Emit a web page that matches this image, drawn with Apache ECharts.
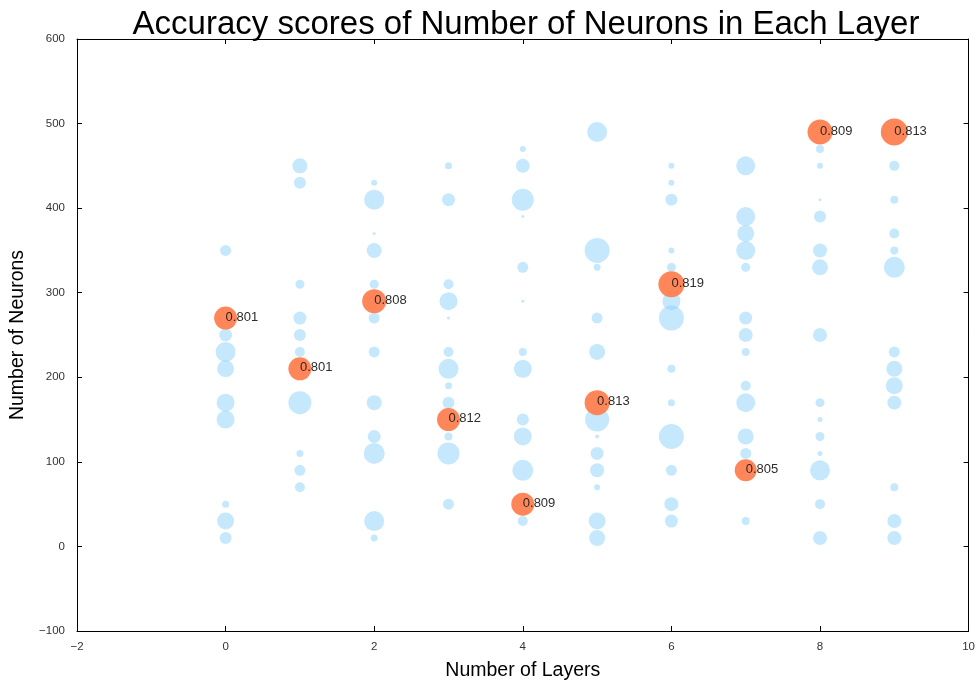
<!DOCTYPE html>
<html><head><meta charset="utf-8">
<script src="https://cdn.jsdelivr.net/npm/echarts@6/dist/echarts.min.js"></script>
<style>html,body{margin:0;padding:0;background:#fff;overflow:hidden}#c{width:978px;height:686px}</style>
</head><body><div id="c"></div>
<script>
// Light-blue bubbles per layer count (index = number of layers)
const layerCounts = [0,1,2,3,4,5,6,7,8,9];
const neuronsByLayer = [
 [350,250,230,210,170,150,50,30,10],
 [450,430,310,270,250,230,170,110,90,70],
 [430,410,370,350,310,270,230,170,130,110,30,10],
 [450,410,310,290,270,230,210,190,170,130,110,50],
 [470,450,410,390,330,290,230,210,150,130,90,30],
 [490,350,330,270,230,150,130,110,90,70,30,10],
 [450,430,410,350,330,290,270,210,170,130,90,50,30],
 [450,390,370,350,330,270,250,230,190,170,130,110,30],
 [470,450,410,390,350,330,250,170,150,130,110,90,50,10],
 [450,410,370,350,330,230,210,190,170,70,30,10]
];
const magnitudeByLayer = [
 [11,13,20,17,18,18,7,17,12],
 [15,12,9,13,12,10,23,7,11,10],
 [6,20,3,15,9,11,11,15,13,21,20,7],
 [7,13,10,18,3,10,20,7,12,8,22,11],
 [6,14,22,3,11,3,8,18,12,18,21,10],
 [20,25,7,11,16,24,4,13,14,6,17,16],
 [6,6,12,6,9,18,25,8,7,25,11,14,13],
 [19,19,17,19,9,13,14,8,10,19,16,11,8],
 [8,6,3,12,14,16,14,9,5,9,5,20,10,14],
 [10,8,10,8,21,11,16,17,14,8,14,14]
];
// Best configuration per layer count (orange)
const bestLayers = [0,1,2,3,4,5,6,7,8,9];
const bestNeurons = [270,210,290,150,50,170,310,90,490,490];
const bestMagnitude = [23,23,24,23,23,25,26,22,25,27];
const bestAccuracy = ['0.801','0.801','0.808','0.812','0.809','0.813','0.819','0.805','0.809','0.813'];
const xTicks = [-2,0,2,4,6,8,10];
const yTicks = [-100,0,100,200,300,400,500,600];

const blueData = [];
layerCounts.forEach((L,i)=>{
  neuronsByLayer[i].forEach((n,j)=>blueData.push([L, n, magnitudeByLayer[i][j]]));
});
const bestData = bestLayers.map((x,i)=>[x, bestNeurons[i], bestMagnitude[i], bestAccuracy[i]]);

const FONT = '"Liberation Sans", Arial, Helvetica, sans-serif';
const minus = v => String(v).replace('-', '\u2212');
const tickStyle = {show:true, inside:true, length:5, lineStyle:{color:'#000', width:1}};
const lineStyle = {show:true, onZero:false, lineStyle:{color:'#000', width:1}};
const labelStyle = {color:'#333', fontSize:11.5, fontFamily:FONT, formatter: minus};

const chart = echarts.init(document.getElementById('c'), null, {renderer:'canvas'});
chart.setOption({
  animation:false,
  backgroundColor:'#fff',
  title:{text:'Accuracy scores of Number of Neurons in Each Layer', left:521, top:3, textAlign:'center',
    textStyle:{fontFamily:FONT, fontSize:33, fontWeight:'normal', color:'#000'}},
  grid:{left:76, right:8, top:39, bottom:50, containLabel:false},
  xAxis:[
    {type:'value', min:xTicks[0], max:xTicks[xTicks.length-1], interval:2, position:'bottom',
     name:'Number of Layers', nameLocation:'middle', nameGap:30,
     nameTextStyle:{fontFamily:FONT, fontSize:19.5, color:'#000'},
     axisLine:lineStyle, axisTick:tickStyle, splitLine:{show:false},
     axisLabel:Object.assign({margin:10}, labelStyle)},
    {type:'value', min:xTicks[0], max:xTicks[xTicks.length-1], interval:2, position:'top',
     axisLine:lineStyle, axisTick:tickStyle, splitLine:{show:false}, axisLabel:{show:false}}
  ],
  yAxis:[
    {type:'value', min:yTicks[0], max:yTicks[yTicks.length-1], interval:100, position:'left',
     name:'Number of Neurons', nameLocation:'middle', nameGap:49,
     nameTextStyle:{fontFamily:FONT, fontSize:19.5, color:'#000'},
     axisLine:lineStyle, axisTick:tickStyle, splitLine:{show:false},
     axisLabel:Object.assign({margin:12}, labelStyle)},
    {type:'value', min:yTicks[0], max:yTicks[yTicks.length-1], interval:100, position:'right',
     axisLine:lineStyle, axisTick:tickStyle, splitLine:{show:false}, axisLabel:{show:false}}
  ],
  series:[
    {type:'scatter', data:blueData, symbolSize:d=>d[2], z:2,
     itemStyle:{color:'rgba(135,206,250,0.6)'}},
    {type:'scatter', data:bestData, symbolSize:d=>d[2], z:3,
     itemStyle:{color:'#ff7f50', opacity:0.95},
     label:{show:true, position:['50%','50%'], align:'left', verticalAlign:'middle', offset:[0,-1],
       formatter:p=>p.data[3], fontFamily:FONT, fontSize:13, color:'#222'}}
  ]
});
</script></body></html>
